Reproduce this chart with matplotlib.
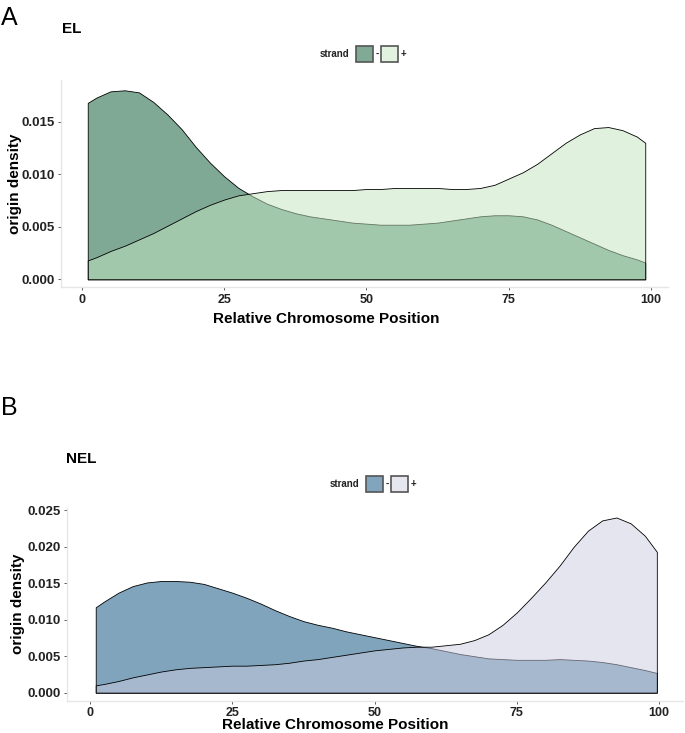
import matplotlib
matplotlib.use("Agg")
import matplotlib.pyplot as plt
from matplotlib.patches import Rectangle
from matplotlib.colors import to_rgba

plt.rcParams['font.family'] = ['Liberation Sans', 'DejaVu Sans']

W, H = 685, 733

# relative chromosome position
pos = [1, 2.5, 5, 7.5, 10, 12.5, 15, 17.5, 20, 22.5, 25, 27.5, 30, 32.5, 35,
       37.5, 40, 42.5, 45, 47.5, 50, 52.5, 55, 57.5, 60, 62.5, 65, 67.5, 70,
       72.5, 75, 77.5, 80, 82.5, 85, 87.5, 90, 92.5, 95, 97.5, 99]

# panel A (EL) densities
el_minus = [0.0168, 0.0173, 0.0179, 0.0180, 0.0178, 0.0169, 0.0157, 0.0143,
            0.0126, 0.0111, 0.0098, 0.0087, 0.0079, 0.0072, 0.0067, 0.0063,
            0.0060, 0.0058, 0.0056, 0.0054, 0.0053, 0.0052, 0.0052, 0.0052,
            0.0053, 0.0054, 0.0056, 0.0058, 0.0060, 0.0061, 0.0061, 0.0060,
            0.0057, 0.0052, 0.0046, 0.0040, 0.0034, 0.0028, 0.0023, 0.0019,
            0.0016]
el_plus = [0.0018, 0.0021, 0.0027, 0.0032, 0.0038, 0.0044, 0.0051, 0.0058,
           0.0065, 0.0071, 0.0076, 0.0080, 0.0082, 0.0084, 0.0085, 0.0085,
           0.0085, 0.0085, 0.0085, 0.0085, 0.0086, 0.0086, 0.0087, 0.0087,
           0.0087, 0.0087, 0.0086, 0.0086, 0.0087, 0.0090, 0.0096, 0.0102,
           0.0110, 0.0120, 0.0130, 0.0138, 0.0144, 0.0145, 0.0142, 0.0136,
           0.0130]

# panel B (NEL) densities
nel_pos = pos[:-1] + [99.6]
nel_minus = [0.0117, 0.0125, 0.0137, 0.0146, 0.0151, 0.0153, 0.0153, 0.0152,
             0.0149, 0.0143, 0.0137, 0.0130, 0.0122, 0.0113, 0.0105, 0.0098,
             0.0093, 0.0089, 0.0084, 0.0080, 0.0076, 0.0072, 0.0068, 0.0064,
             0.0061, 0.0057, 0.0053, 0.0050, 0.0047, 0.0046, 0.0045, 0.0045,
             0.0045, 0.0046, 0.0045, 0.0044, 0.0042, 0.0039, 0.0035, 0.0031,
             0.0027]
nel_plus = [0.0010, 0.0012, 0.0016, 0.0021, 0.0025, 0.0029, 0.0032, 0.0034,
            0.0035, 0.0036, 0.0037, 0.0037, 0.0038, 0.0039, 0.0041, 0.0044,
            0.0046, 0.0049, 0.0052, 0.0055, 0.0058, 0.0060, 0.0062, 0.0063,
            0.0063, 0.0065, 0.0067, 0.0072, 0.0080, 0.0093, 0.0110, 0.0130,
            0.0151, 0.0174, 0.0200, 0.0222, 0.0236, 0.0240, 0.0232, 0.0215,
            0.0193]

x_ticks = [0, 25, 50, 75, 100]
el_yticks = [0.000, 0.005, 0.010, 0.015]
nel_yticks = [0.000, 0.005, 0.010, 0.015, 0.020, 0.025]

el_colors = ["#00552d", "#c3e7bf"]
nel_colors = ["#004b7b", "#cdcde1"]


def fx(px):
    return px / W


def fy(py):
    return 1 - py / H


def blend(c, a=0.5):
    r, g, b, _ = to_rgba(c)
    return (a * r + 1 - a, a * g + 1 - a, a * b + 1 - a)


def density_panel(box, xs, minus, plus, colors, yticks, xlim, ylim):
    left, top, right, bottom = box
    ax = fig.add_axes([fx(left), fy(bottom), fx(right) - fx(left), fy(top) - fy(bottom)])
    for ys, c in zip([minus, plus], colors):
        ax.fill_between(xs, 0, ys, facecolor=to_rgba(c, 0.5), edgecolor="black",
                        linewidth=0.6)
    ax.set_xlim(*xlim)
    ax.set_ylim(*ylim)
    ax.set_xticks(x_ticks)
    ax.set_xticklabels([str(t) for t in x_ticks], fontsize=9, fontweight="bold")
    ax.set_yticks(yticks)
    ax.set_yticklabels(["%.3f" % t for t in yticks], fontsize=9.5, fontweight="bold")
    for s in ["top", "right"]:
        ax.spines[s].set_visible(False)
    for s in ["left", "bottom"]:
        ax.spines[s].set_color("#e6e6e6")
        ax.spines[s].set_linewidth(1.0)
    ax.tick_params(length=2.5, width=0.6, color="#444444", pad=2, labelcolor="#222222")
    return ax


def legend(x0, yc, colors):
    fig.text(fx(x0), fy(yc), "strand", fontsize=7, fontweight="bold",
             ha="left", va="center", color="#222222")
    bx = x0 + 36
    for c, lab in zip(colors, ["-", "+"]):
        fig.add_artist(Rectangle((fx(bx), fy(yc + 8)), 17 / W, 16 / H,
                                 transform=fig.transFigure, facecolor=blend(c),
                                 edgecolor="#555555", linewidth=1.2))
        fig.text(fx(bx + 20), fy(yc), lab, fontsize=7, fontweight="bold",
                 ha="left", va="center", color="#222222")
        bx += 25


fig = plt.figure(figsize=(W / 100, H / 100), dpi=100)

# panel A
density_panel((61, 80, 668, 287.3), pos, el_minus, el_plus, el_colors, el_yticks,
              (-3.7, 103.0), (-0.00076, 0.01898))
fig.text(fx(1), fy(18), "A", fontsize=18, ha="left", va="center")
fig.text(fx(62), fy(29), "EL", fontsize=11, fontweight="bold", ha="left", va="center")
legend(320, 54, el_colors)
fig.text(fx(15.5), fy(183.5), "origin density", fontsize=11, fontweight="bold",
         rotation=90, ha="center", va="center")
fig.text(fx(326), fy(319), "Relative Chromosome Position", fontsize=11,
         fontweight="bold", ha="center", va="center")

# panel B
density_panel((66.7, 508, 683, 701), nel_pos, nel_minus, nel_plus, nel_colors,
              nel_yticks, (-4.1, 104.2), (-0.00114, 0.0253))
fig.text(fx(1), fy(408), "B", fontsize=18, ha="left", va="center")
fig.text(fx(66), fy(459), "NEL", fontsize=11, fontweight="bold", ha="left", va="center")
legend(330, 484, nel_colors)
fig.text(fx(18), fy(604), "origin density", fontsize=11, fontweight="bold",
         rotation=90, ha="center", va="center")
fig.text(fx(335), fy(725), "Relative Chromosome Position", fontsize=11,
         fontweight="bold", ha="center", va="center")

fig.savefig("out.png", dpi=100)
